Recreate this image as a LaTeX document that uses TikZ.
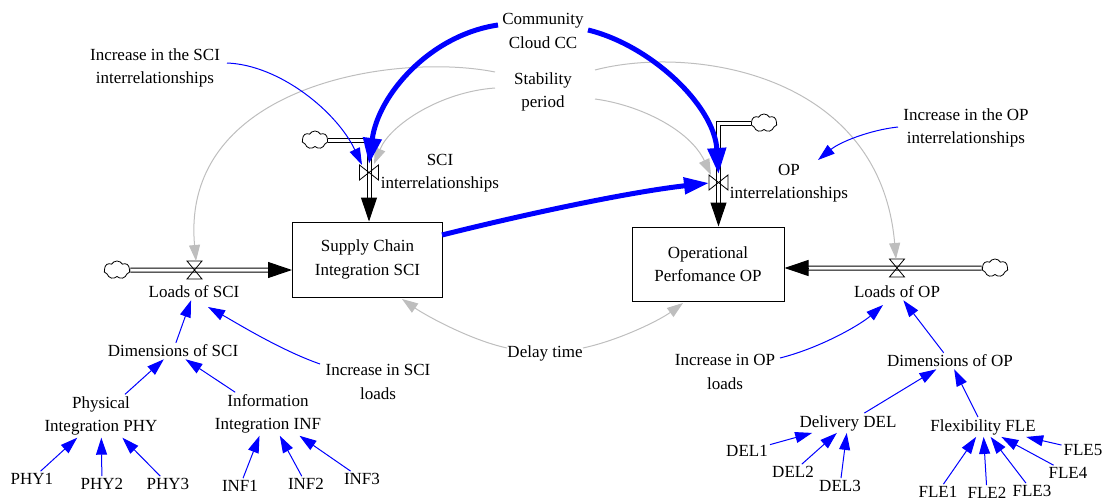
\documentclass[tikz,border=0pt]{standalone}
\usepackage{fontspec}
\setmainfont{Liberation Serif}
\usetikzlibrary{arrows.meta,shapes.symbols,calc}
\definecolor{gr}{RGB}{190,190,190}
\begin{document}
\begin{tikzpicture}[x=1pt,y=-1pt,
  txt/.style={font=\fontsize{17}{23.5}\selectfont, align=center, inner sep=2pt},
  stockbox/.style={txt, draw, line width=1pt, minimum width=150pt, minimum height=75pt},
  bl/.style={draw=blue, line width=1pt, -{Triangle[length=17pt,width=11pt]}},
  blthick/.style={draw=blue, line width=5pt, -{Triangle[length=26pt,width=18pt]}},
  grarrow/.style={draw=gr, line width=1pt, -{Triangle[length=16pt,width=11pt]}},
  pipe/.style={draw=black, double=white, double distance=3pt, line width=1pt},
  flowhead/.style={line width=1pt, -{Triangle[length=24pt,width=16pt]}},
  cloudy/.style={cloud, cloud puffs=7, cloud puff arc=120, aspect=1.4, draw, fill=white, line width=0.8pt, minimum width=26pt, minimum height=18pt, inner sep=0pt},
  valvest/.style={draw, line width=0.8pt}
]
\useasboundingbox (0,0) rectangle (1109,503);

% ---------- stocks
\node[stockbox] (sci) at (367.5,259.5) {Supply Chain\\Integration SCI};
\node[stockbox, minimum width=152pt, minimum height=74pt] (op) at (708,264) {Operational\\Perfomance OP};

% ---------- flows
\node[cloudy] (c1) at (315,140) {};
\coordinate (v1) at (369,172.5);
\draw[pipe] (c1.east) -| (v1) -- ($(sci.north -| v1)+(0,-18)$);
\draw[flowhead] ($(sci.north -| v1)+(0,-24)$) -- (sci.north -| v1);
\draw[valvest,shift={(v1)}] (-9.5,-7.5) -- (-9.5,7.5) -- (9.5,-7.5) -- (9.5,7.5) -- cycle;

\node[cloudy] (c2) at (117,270) {};
\coordinate (v2) at (194.5,270);
\draw[pipe] (c2.east) -- ($(sci.west |- v2)+(-18,0)$);
\draw[flowhead] ($(sci.west |- v2)+(-24,0)$) -- (sci.west |- v2);
\draw[valvest,shift={(v2)}] (-7.5,-9) -- (7.5,-9) -- (-7.5,9) -- (7.5,9) -- cycle;

\node[cloudy] (c3) at (764,123) {};
\coordinate (v3) at (718.5,182.5);
\draw[pipe] (c3.west) -| (v3) -- ($(op.north -| v3)+(0,-18)$);
\draw[flowhead] ($(op.north -| v3)+(0,-24)$) -- (op.north -| v3);
\draw[valvest,shift={(v3)}] (-9.5,-7.5) -- (-9.5,7.5) -- (9.5,-7.5) -- (9.5,7.5) -- cycle;

\node[cloudy] (c4) at (995,268) {};
\coordinate (v4) at (897,268);
\draw[pipe] (c4.west) -- ($(op.east |- v4)+(18,0)$);
\draw[flowhead] ($(op.east |- v4)+(24,0)$) -- (op.east |- v4);
\draw[valvest,shift={(v4)}] (-7.5,-9) -- (7.5,-9) -- (-7.5,9) -- (7.5,9) -- cycle;

% ---------- texts
\node[txt] (cc) at (543,31) {Community\\Cloud CC};
\node[txt] (stab) at (543,92) {Stability\\period};
\node[txt] (incsci) at (155,68) {Increase in the SCI\\interrelationships};
\node[txt] (scilab) at (440,173) {SCI\\interrelationships};
\node[txt] (oplab) at (789,183) {OP\\interrelationships};
\node[txt] (incop) at (966,128) {Increase in the OP\\interrelationships};
\node[txt] (loadsci) at (194,292) {Loads of SCI};
\node[txt] (loadop) at (897,292) {Loads of OP};
\node[txt] (delay) at (545,353) {Delay time};
\node[txt] (dimsci) at (173,351) {Dimensions of SCI};
\node[txt] (incscil) at (378,382) {Increase in SCI\\loads};
\node[txt] (incopl) at (725,372) {Increase in OP\\loads};
\node[txt] (dimop) at (950,361) {Dimensions of OP};
\node[txt] (phy) at (101,416) {Physical\\Integration PHY};
\node[txt] (inf) at (268,414) {Information\\Integration INF};
\node[txt] (phy1) at (32,479) {PHY1};
\node[txt] (phy2) at (102,484) {PHY2};
\node[txt] (phy3) at (168,484) {PHY3};
\node[txt] (inf1) at (240,486) {INF1};
\node[txt] (inf2) at (306,484) {INF2};
\node[txt] (inf3) at (362,479) {INF3};
\node[txt] (del) at (848,423) {Delivery DEL};
\node[txt] (fle) at (983,427) {Flexibility FLE};
\node[txt] (del1) at (747,451) {DEL1};
\node[txt] (del2) at (793,472) {DEL2};
\node[txt] (del3) at (840,486) {DEL3};
\node[txt] (fle1) at (938,492) {FLE1};
\node[txt] (fle2) at (987,493) {FLE2};
\node[txt] (fle3) at (1032,491) {FLE3};
\node[txt] (fle4) at (1068,473) {FLE4};
\node[txt] (fle5) at (1083,450) {FLE5};

% ---------- connector end points
\coordinate (ccL) at (498,25);
\coordinate (ccR) at (588,30);
\coordinate (v1top) at (369,164);
\coordinate (v3top) at (718.5,174);
\coordinate (v1tl) at (362,165);
\coordinate (v1tr) at (374,164);
\coordinate (v3tl) at (711,175);
\coordinate (v3l) at (709,183);
\coordinate (v2top) at (196,261);
\coordinate (v4top) at (896,259);
\coordinate (stL1) at (495,72);
\coordinate (stL2) at (495,88);
\coordinate (stR1) at (595,70);
\coordinate (stR2) at (595,99);
\coordinate (incsciE) at (227,63);
\coordinate (incopW) at (898,127);
\coordinate (oplabT) at (818,160);
\coordinate (sciE) at (442,235);
\coordinate (incsclW) at (320,364);
\coordinate (loadsciB) at (208,307);
\coordinate (incoplE) at (780,358);
\coordinate (loadopB) at (883,305);
\coordinate (dlL) at (507,348);
\coordinate (dlR) at (583,348);
\coordinate (sciB) at (402,299);
\coordinate (opB) at (683,303);

% ---------- gray links
\draw[grarrow] (stL1) .. controls (395,52) and (180,85) .. (v2top);
\draw[grarrow] (stL2) .. controls (440,92) and (390,125) .. (v1tr);
\draw[grarrow] (stR1) .. controls (690,45) and (880,72) .. (v4top);
\draw[grarrow] (stR2) .. controls (640,105) and (690,130) .. (v3tl);
\draw[grarrow] (dlL) .. controls (470,340) and (425,315) .. (sciB);
\draw[grarrow] (dlR) .. controls (620,340) and (660,320) .. (opB);

% ---------- blue links
\draw[bl] (incsciE) .. controls (280,65) and (337,112) .. (v1tl);
\draw[bl] (incopW) .. controls (870,130) and (840,142) .. (oplabT);
\draw[bl] (incsclW) .. controls (280,350) and (235,322) .. (loadsciB);
\draw[bl] (incoplE) .. controls (820,348) and (860,325) .. (loadopB);
\draw[blthick] (ccL) .. controls (430,35) and (378,95) .. (v1top);
\draw[blthick] (ccR) .. controls (650,45) and (714,105) .. (v3top);
\draw[blthick, -{Triangle[length=25pt,width=16pt]}] (sciE) .. controls (530,213) and (630,192) .. (v3l);

\draw[bl] (dimsci) -- (loadsci);
\draw[bl] (phy) -- (dimsci);
\draw[bl] (inf) -- (dimsci);
\draw[bl] (phy1) -- (phy);
\draw[bl] (phy2) -- (phy);
\draw[bl] (phy3) -- (phy);
\draw[bl] (inf1) -- (inf);
\draw[bl] (inf2) -- (inf);
\draw[bl] (inf3) -- (inf);
\draw[bl] (dimop) -- (loadop);
\draw[bl] (del) -- (dimop);
\draw[bl] (fle) -- (dimop);
\draw[bl] (del1) -- (del);
\draw[bl] (del2) -- (del);
\draw[bl] (del3) -- (del);
\draw[bl] (fle1) -- (fle);
\draw[bl] (fle2) -- (fle);
\draw[bl] (fle3) -- (fle);
\draw[bl] (fle4) -- (fle);
\draw[bl] (fle5) -- (fle);
\end{tikzpicture}
\end{document}
